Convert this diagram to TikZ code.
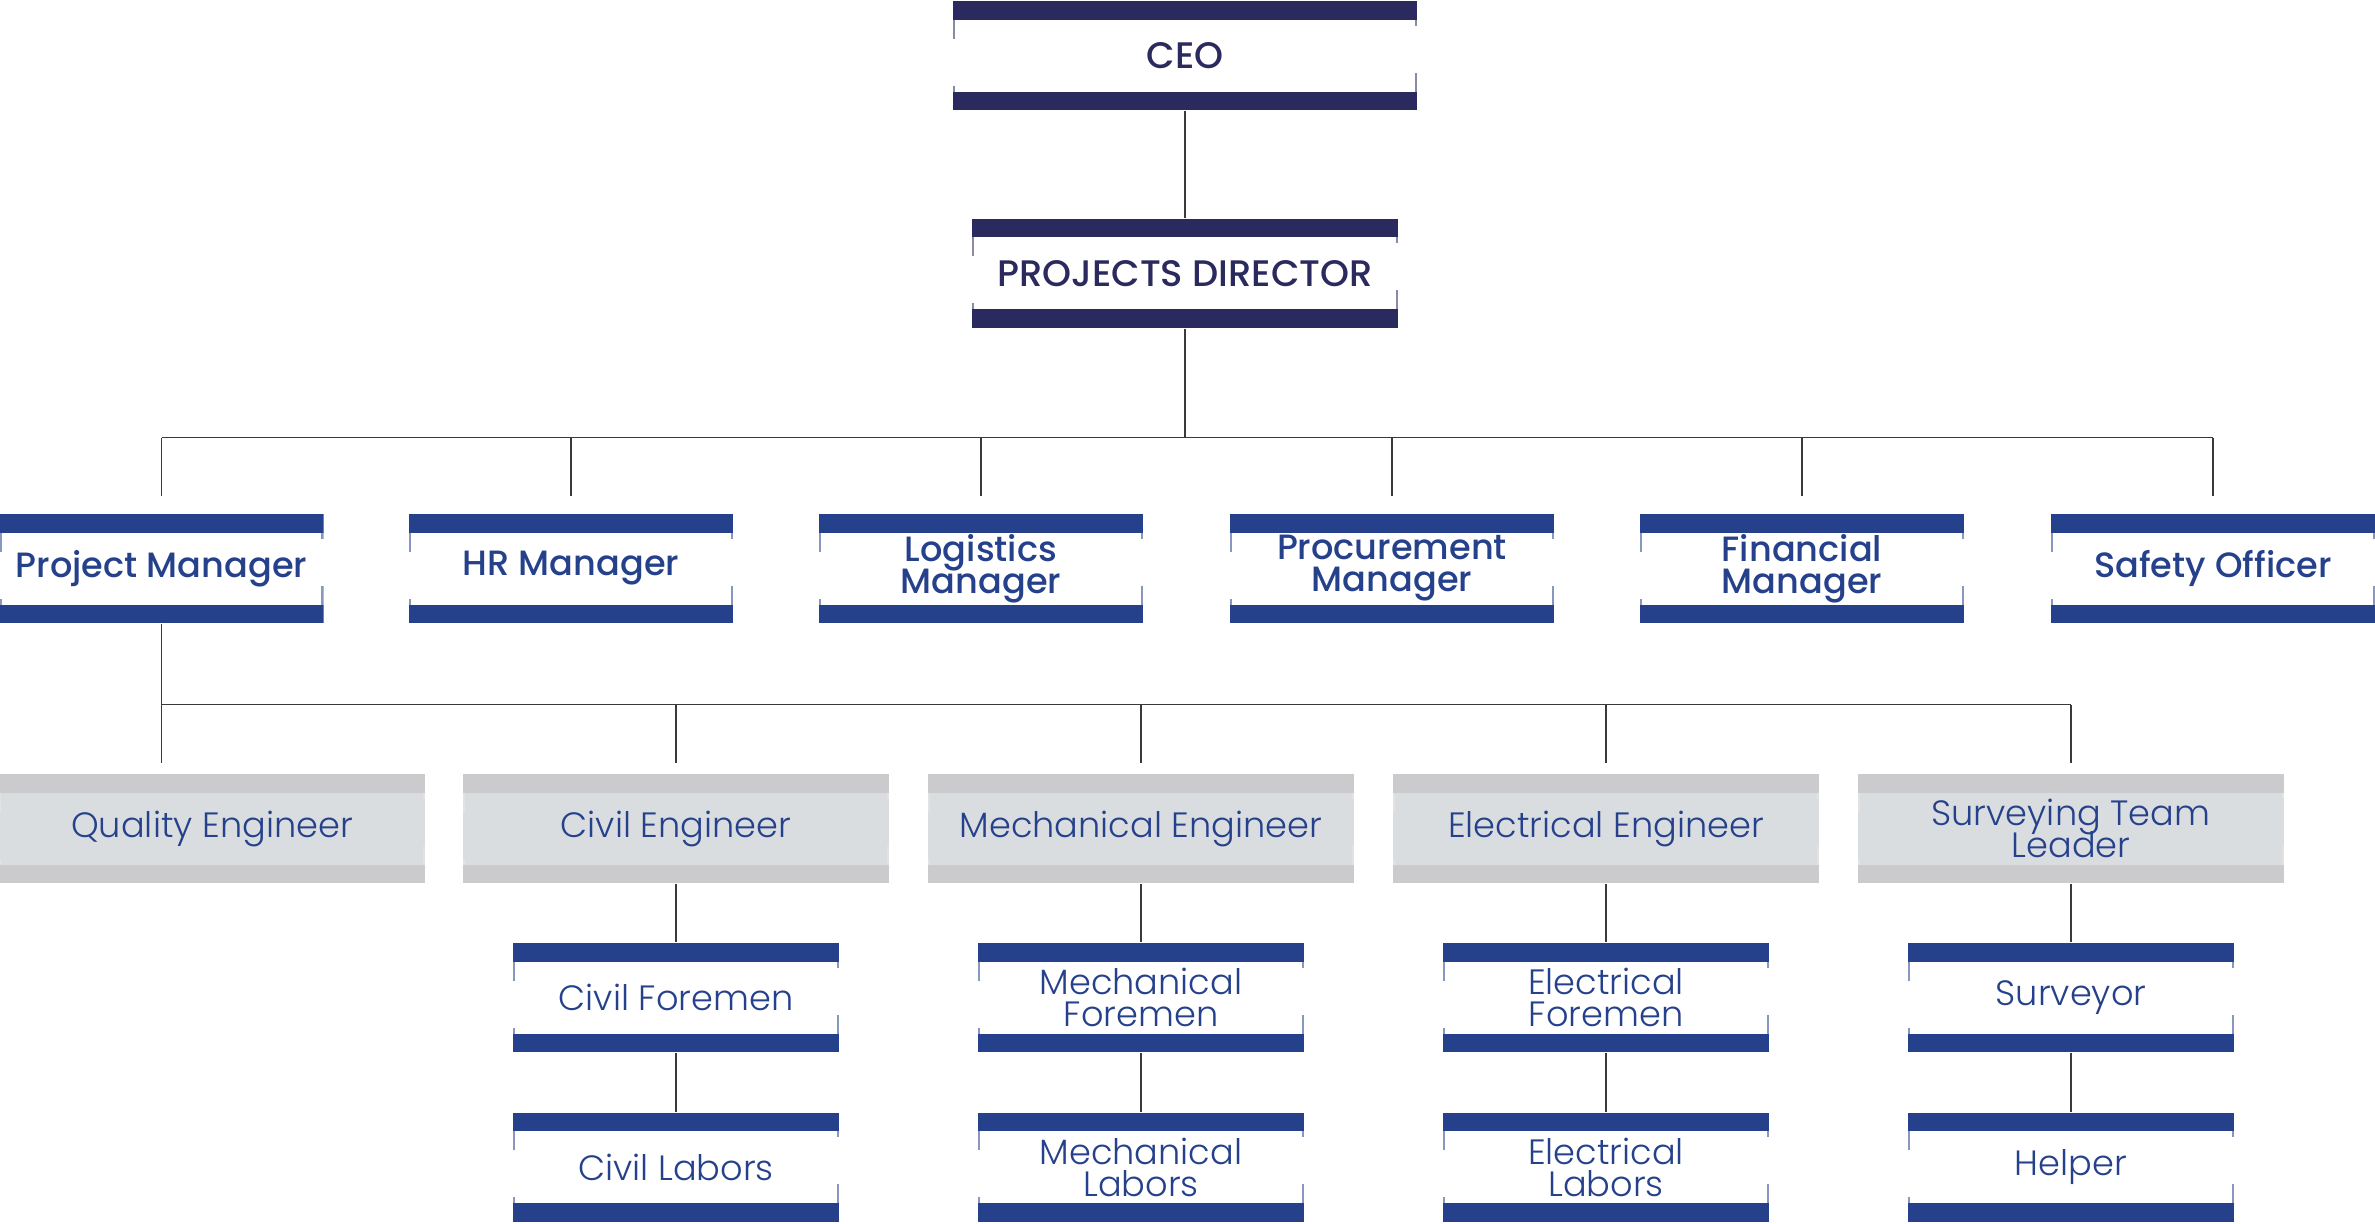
\documentclass[tikz,border=0pt]{standalone}
\usepackage{fontspec}
\setmainfont{Poppins}
\newfontfamily\medfont{Poppins Medium}
\newfontfamily\lightfont{Poppins Light}
\usepackage{tikz}

\definecolor{navy}{HTML}{2B2A5E}
\definecolor{royal}{HTML}{26418C}
\definecolor{barGray}{HTML}{CBCBCD}
\definecolor{paleGray}{HTML}{DADDDF}
\definecolor{wire}{HTML}{3A3A3A}

\newcommand\tightlines{\lineskiplimit=-10pt\relax}

\tikzset{
  card/.style 2 args={inner sep=0pt, minimum height=1.09cm, align=center, fill=#2,
    path picture={
      \fill[#1] (path picture bounding box.north west) rectangle ([yshift=-1.85mm]path picture bounding box.north east);
      \fill[#1] (path picture bounding box.south west) rectangle ([yshift=1.85mm]path picture bounding box.south east);
      % folded edges
      \draw[#1!55, line width=0.6pt] ([shift={(0.3pt,-1.85mm)}]path picture bounding box.north west) -- ++(0,-1.9mm);
      \draw[#1!55, line width=0.6pt] ([shift={(0.3pt,1.85mm)}]path picture bounding box.south west) -- ++(0,0.6mm);
      \draw[#1!55, line width=0.6pt] ([shift={(-0.3pt,-1.85mm)}]path picture bounding box.north east) -- ++(0,-0.6mm);
      \draw[#1!55, line width=0.6pt] ([shift={(-0.3pt,1.85mm)}]path picture bounding box.south east) -- ++(0,1.9mm);
    }},
  topcard/.style={card={navy}{white}, text=navy, font=\medfont\fontsize{10.5}{9}\selectfont},
  mgrcard/.style={card={royal}{white}, text=royal, minimum width=3.24cm,
    font=\medfont\fontsize{10}{9.1}\selectfont\tightlines},
  engcard/.style={card={barGray}{paleGray}, text=royal, minimum width=4.26cm,
    font=\lightfont\fontsize{10}{9.1}\selectfont\tightlines},
  crewcard/.style={card={royal}{white}, text=royal, minimum width=3.26cm,
    font=\lightfont\fontsize{10}{9.1}\selectfont\tightlines},
  link/.style={draw=wire, line width=0.55pt},
}

\begin{document}
\begin{tikzpicture}
\useasboundingbox (0,0) rectangle (23.75,-12.24);

% Top
\node[topcard, minimum width=4.64cm] (ceo) at (11.85,-0.56) {CEO};
\node[topcard, minimum width=4.26cm] (pd) at (11.85,-2.735) {PROJECTS DIRECTOR};

% Managers
\node[mgrcard] (pm) at (1.615,-5.685) {Project Manager};
\node[mgrcard] (hr) at (5.71,-5.685) {HR Manager};
\node[mgrcard] (lm) at (9.81,-5.685) {Logistics\\Manager};
\node[mgrcard] (pcm) at (13.92,-5.685) {Procurement\\Manager};
\node[mgrcard] (fm) at (18.02,-5.685) {Financial\\Manager};
\node[mgrcard] (so) at (22.13,-5.685) {Safety Officer};

% Engineers
\node[engcard] (qe) at (2.12,-8.285) {Quality Engineer};
\node[engcard] (ce) at (6.76,-8.285) {Civil Engineer};
\node[engcard] (me) at (11.41,-8.285) {Mechanical Engineer};
\node[engcard] (ee) at (16.06,-8.285) {Electrical Engineer};
\node[engcard] (se) at (20.71,-8.285) {Surveying Team\\Leader};

% Foremen
\node[crewcard] (cf) at (6.76,-9.975) {Civil Foremen};
\node[crewcard] (mf) at (11.41,-9.975) {Mechanical\\Foremen};
\node[crewcard] (ef) at (16.06,-9.975) {Electrical\\Foremen};
\node[crewcard] (sv) at (20.71,-9.975) {Surveyor};

% Labors
\node[crewcard] (cl) at (6.76,-11.67) {Civil Labors};
\node[crewcard] (ml) at (11.41,-11.67) {Mechanical\\Labors};
\node[crewcard] (el) at (16.06,-11.67) {Electrical\\Labors};
\node[crewcard] (hp) at (20.71,-11.67) {Helper};

% Lines
\coordinate (bus) at (11.85,-4.375);
\coordinate (bus2) at (11.41,-7.045);
\draw[link] (ceo) -- (pd);
\draw[link] (pd) -- (bus);
\draw[link] (pm |- bus) -- (so |- bus);
\foreach \n in {pm,hr,lm,pcm,fm,so}
  \draw[link] (\n |- bus) -- ([yshift=1.7mm]\n.north);

\draw[link] (pm) -- ([yshift=1mm]pm |- qe.north);
\draw[link] (pm |- bus2) -- (se |- bus2);
\foreach \n in {ce,me,ee,se}
  \draw[link] (\n |- bus2) -- ([yshift=1mm]\n.north);

\draw[link] (ce) -- (cf);
\draw[link] (cf) -- (cl);
\draw[link] (me) -- (mf);
\draw[link] (mf) -- (ml);
\draw[link] (ee) -- (ef);
\draw[link] (ef) -- (el);
\draw[link] (se) -- (sv);
\draw[link] (sv) -- (hp);
\end{tikzpicture}
\end{document}
